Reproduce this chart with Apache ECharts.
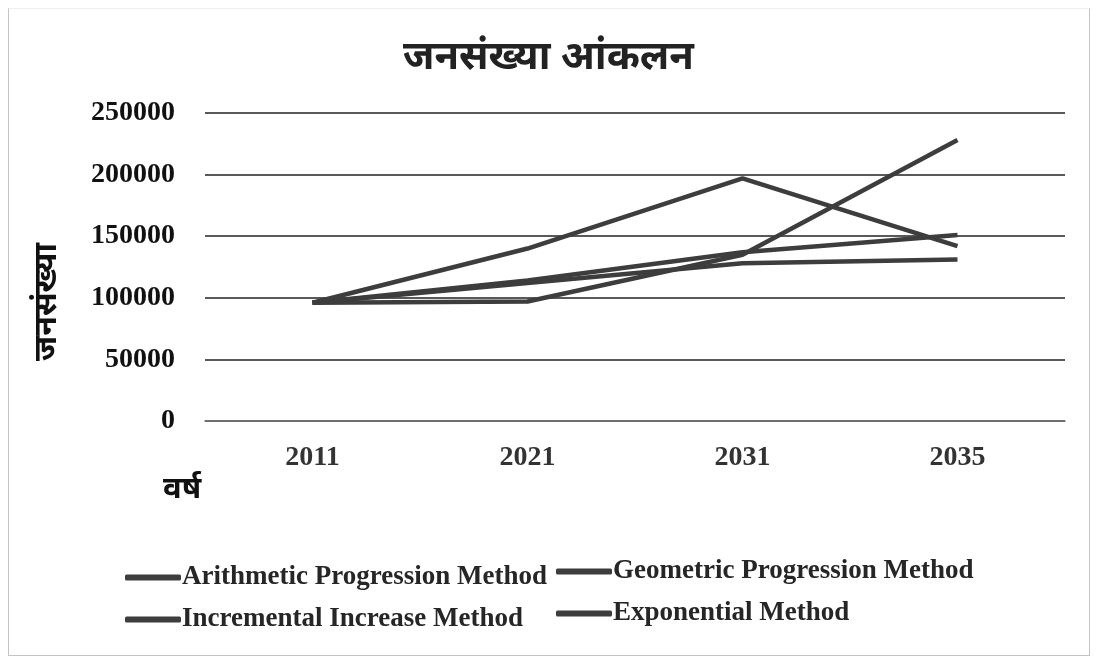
<!DOCTYPE html>
<html>
<head>
<meta charset="utf-8">
<script src="https://cdn.jsdelivr.net/npm/echarts@6/dist/echarts.min.js"></script>
<style>
html,body{margin:0;padding:0;background:#fff;}
#frame{position:absolute;left:8px;top:8px;width:1082px;height:648px;border:1px solid #c4c4c4;border-top-color:#eee;box-sizing:border-box;}
#chart{position:absolute;left:0;top:0;width:1097px;height:664px;}
</style>
</head>
<body>
<div id="frame"></div>
<div id="chart"></div>
<script>
var years = ['2011', '2021', '2031', '2035'];
var yTicks = [0, 50000, 100000, 150000, 200000, 250000];
var arithmetic = [96000, 112000, 128000, 131000];
var geometric = [96000, 114000, 137000, 151000];
var incremental = [96000, 140000, 197000, 142000];
var exponential = [96000, 97000, 135000, 228000];

var lineColor = '#3d3d3d';
var serif = '"Liberation Serif", "Times New Roman", serif';
var deva = '"Noto Sans", "Noto Sans Devanagari", sans-serif';

function mk(name, data) {
  return {
    name: name, type: 'line', data: data,
    symbol: 'none', smooth: false,
    lineStyle: { color: lineColor, width: 4.5 },
    itemStyle: { color: lineColor }
  };
}

var chart = echarts.init(document.getElementById('chart'));
var legendText = { fontFamily: serif, fontWeight: 'bold', fontSize: 27, color: '#262626', padding: [0, 0, 0, -4] };
var legendCommon = {
  orient: 'vertical', itemGap: 15,
  itemWidth: 56, itemHeight: 6, icon: 'roundRect',
  textStyle: legendText
};
chart.setOption({
  animation: false,
  backgroundColor: 'transparent',
  title: {
    text: 'जनसंख्या आंकलन',
    left: 'center', top: 33,
    textStyle: { fontFamily: deva, fontWeight: 'bold', fontSize: 40, color: '#222' }
  },
  legend: [
    Object.assign({ data: ['Arithmetic Progression Method', 'Incremental Increase Method'], left: 120, top: 559 }, legendCommon),
    Object.assign({ data: ['Geometric Progression Method', 'Exponential Method'], left: 551, top: 553 }, legendCommon)
  ],
  graphic: [
    {
      type: 'text', left: 163, top: 474,
      style: { text: 'वर्ष', font: 'bold 31px ' + deva, fill: '#111' }
    },
    {
      type: 'text', x: 47, y: 302, rotation: Math.PI / 2,
      style: { text: 'जनसंख्या', font: 'bold 32px ' + deva, fill: '#111', align: 'center', verticalAlign: 'middle' }
    }
  ],
  grid: { left: 205, right: 32, top: 113, bottom: 243 },
  xAxis: {
    type: 'category', data: years, boundaryGap: true,
    axisLine: { show: true, lineStyle: { color: '#777', width: 1.5 } },
    axisTick: { show: false },
    axisLabel: { margin: 23, fontFamily: serif, fontWeight: 'bold', fontSize: 28, color: '#333' }
  },
  yAxis: {
    type: 'value', min: yTicks[0], max: yTicks[yTicks.length - 1], interval: 50000,
    axisLine: { show: false }, axisTick: { show: false },
    axisLabel: { margin: 30, fontFamily: serif, fontWeight: 'bold', fontSize: 28, color: '#111',
      formatter: function (v) { return String(v); } },
    splitLine: { lineStyle: { color: '#222', width: 1.5 } }
  },
  series: [
    mk('Arithmetic Progression Method', arithmetic),
    mk('Geometric Progression Method', geometric),
    mk('Incremental Increase Method', incremental),
    mk('Exponential Method', exponential)
  ]
});
</script>
</body>
</html>
